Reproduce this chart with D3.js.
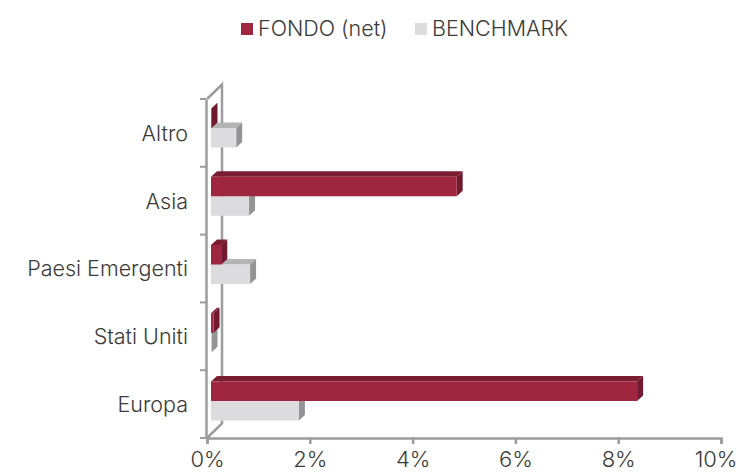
<!DOCTYPE html>
<html>
<head>
<meta charset="utf-8">
<script src="https://cdn.jsdelivr.net/npm/d3@7"></script>
<style>
    html, body { margin: 0; padding: 0; background: #fff; }
    text { font-family: Inter, "Open Sans", sans-serif; font-weight: 300; fill: #3a3a3a; }
</style>
</head>
<body>
<div id="chart"></div>
<script>
const categories = ["Altro", "Asia", "Paesi Emergenti", "Stati Uniti", "Europa"];
const fondoValues = [0.01, 4.78, 0.2, 0.05, 8.29];
const benchmarkValues = [0.49, 0.74, 0.76, 0.01, 1.71];
const xTicks = [0, 2, 4, 6, 8, 10];
const seriesNames = ["FONDO (net)", "BENCHMARK"];

const width = 738, height = 472;
const plot = { left: 207, right: 721, top: 99, bottom: 438 };
// depth of the fake 3d floor and of the bars
const wall = { dx: 15, dy: 14.5 };
const depth = { dx: 6, dy: 5.5 };

const svg = d3.select("#chart").append("svg")
    .attr("width", width)
    .attr("height", height)
    .style("display", "block");

const xScale = d3.scaleLinear().domain([0, 10]).range([plot.left, plot.right]);
const yScale = d3.scaleBand().domain(categories).range([plot.top, plot.bottom]);
// line between the two bars of a group, the bars drift a bit from the ticks
const barLine = d3.scalePoint().domain(categories).range([128, 401]);
const barOffset = 4; // bars stand a little in front of the axis plane
const barX = v => xScale(v) + barOffset;
const barH = 19.5;

const axisColor = "#9c9c9c";

// back wall and floor edge
svg.append("path")
    .attr("d", `M${plot.left},${plot.top} L${plot.left + wall.dx},${plot.top - wall.dy} L${plot.left + wall.dx},${plot.bottom - wall.dy} L${plot.left},${plot.bottom}`)
    .attr("fill", "none")
    .attr("stroke", axisColor)
    .attr("stroke-width", 2.5);

const xAxis = svg.append("g")
    .attr("transform", `translate(0,${plot.bottom})`)
    .call(d3.axisBottom(xScale).tickValues(xTicks).tickFormat(d => d + "%").tickSize(6).tickPadding(7));
const yAxis = svg.append("g")
    .attr("transform", `translate(${plot.left - 1},0)`)
    .call(d3.axisLeft(yScale).tickValues([]).tickSize(0));

xAxis.selectAll("path, line").attr("stroke", axisColor).attr("stroke-width", 2.5);
yAxis.selectAll("path").attr("stroke", axisColor).attr("stroke-width", 2.5);
xAxis.selectAll("text")
    .attr("font-size", 22)
    .attr("fill", "#3a3a3a")
    .attr("font-family", "Inter");
// last label is pulled back so it stays inside the page
xAxis.selectAll(".tick").filter(d => d === 10).select("text")
    .attr("text-anchor", "end")
    .attr("x", 16);

// y ticks sit on band edges, not on centres
svg.append("g").selectAll("line")
    .data(categories.concat("end"))
    .enter().append("line")
    .attr("x1", plot.left - 7)
    .attr("x2", plot.left - 1)
    .attr("y1", (d, i) => plot.top + i * yScale.step())
    .attr("y2", (d, i) => plot.top + i * yScale.step())
    .attr("stroke", axisColor)
    .attr("stroke-width", 2);

svg.append("g").selectAll("text")
    .data(categories)
    .enter().append("text")
    .attr("x", 188)
    .attr("y", d => yScale(d) + yScale.bandwidth() / 2 + 1)
    .attr("text-anchor", "end")
    .attr("dy", "0.32em")
    .attr("font-size", 21.5)
    .text(d => d);

function drawBars(values, offset, colors) {
    const g = svg.append("g");
    categories.forEach((c, i) => {
        const x0 = barX(0), x1 = barX(values[i]);
        const y0 = barLine(c) + offset;
        // top face
        g.append("path")
            .attr("d", `M${x0},${y0} L${x0 + depth.dx},${y0 - depth.dy} L${x1 + depth.dx},${y0 - depth.dy} L${x1},${y0} Z`)
            .attr("fill", colors.top);
        // side face
        g.append("path")
            .attr("d", `M${x1},${y0} L${x1 + depth.dx},${y0 - depth.dy} L${x1 + depth.dx},${y0 + barH - depth.dy} L${x1},${y0 + barH} Z`)
            .attr("fill", colors.side);
        // front face
        g.append("rect")
            .attr("x", x0)
            .attr("y", y0)
            .attr("width", x1 - x0)
            .attr("height", barH)
            .attr("fill", colors.front);
    });
}

// benchmark first so the fondo bar covers its top face
drawBars(benchmarkValues, 0, { front: "#dcdcde", top: "#b4b4b4", side: "#949494" });
drawBars(fondoValues, -barH, { front: "#9e2640", top: "#7a1c32", side: "#6f1a2e" });

// legend
const legendItems = [
    { name: seriesNames[0], color: "#9e2640", box: 241, label: 258 },
    { name: seriesNames[1], color: "#dcdcdc", box: 415, label: 432 }
];
const legend = svg.append("g");
legendItems.forEach(d => {
    legend.append("rect").attr("x", d.box).attr("y", 23).attr("width", 12).attr("height", 12).attr("fill", d.color);
    legend.append("text").attr("x", d.label).attr("y", 36).attr("font-size", 21.5).text(d.name);
});
</script>
</body>
</html>
